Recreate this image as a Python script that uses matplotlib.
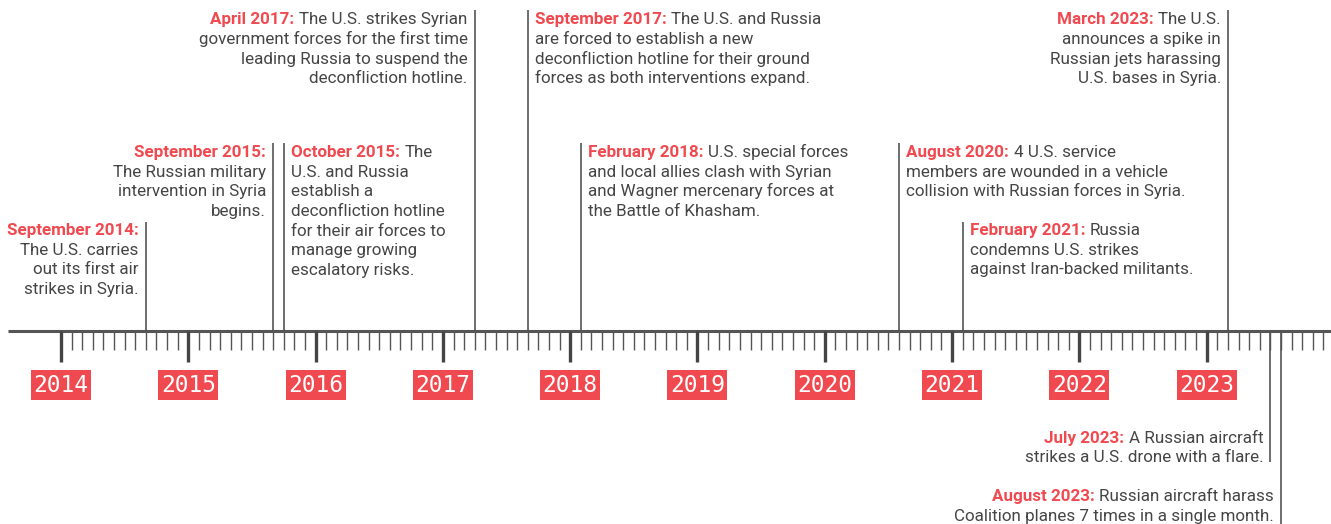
import matplotlib
matplotlib.use("Agg")
import matplotlib.pyplot as plt
from matplotlib.patches import Rectangle

# ---------------- data ----------------
years = [2014, 2015, 2016, 2017, 2018, 2019, 2020, 2021, 2022, 2023]
year_labels = [str(y) for y in years]
last_month = (2023, 12)

event_dates = [(2014, 9), (2015, 9), (2015, 10), (2017, 4), (2017, 9),
               (2018, 2), (2020, 8), (2021, 2), (2023, 3), (2023, 7), (2023, 8)]
event_titles = ["September 2014:", "September 2015:", "October 2015:", "April 2017:",
                "September 2017:", "February 2018:", "August 2020:", "February 2021:",
                "March 2023:", "July 2023:", "August 2023:"]
event_texts = [
    ["", "The U.S. carries", "out its first air", "strikes in Syria."],
    ["", "The Russian military", "intervention in Syria", "begins."],
    ["The", "U.S. and Russia", "establish a", "deconfliction hotline",
     "for their air forces to", "manage growing", "escalatory risks."],
    ["The U.S. strikes Syrian", "government forces for the first time",
     "leading Russia to suspend the", "deconfliction hotline."],
    ["The U.S. and Russia", "are forced to establish a new",
     "deconfliction hotline for their ground", "forces as both interventions expand."],
    ["U.S. special forces", "and local allies clash with Syrian",
     "and Wagner mercenary forces at", "the Battle of Khasham."],
    ["4 U.S. service", "members are wounded in a vehicle",
     "collision with Russian forces in Syria."],
    ["Russia", "condemns U.S. strikes", "against Iran-backed militants."],
    ["The U.S.", "announces a spike in", "Russian jets harassing", "U.S. bases in Syria."],
    ["A Russian aircraft", "strikes a U.S. drone with a flare."],
    ["Russian aircraft harass", "Coalition planes 7 times in a single month."],
]
# layout: side of line for text, first-baseline (px), line top (px)
event_align = ["right", "right", "left", "right", "left", "left", "left", "left",
               "right", "right", "right"]
event_base = [235, 157, 157, 24.3, 24.3, 157, 157, 235, 24.3, 442.7, 501]
event_top = [222, 143, 143, 10, 10, 143, 143, 222, 10, 462, 524]

# ---------------- style ----------------
W, H, DPI = 1331, 524, 100
PX_PER_YEAR = 127.3
X0_PX = 61
RED = "#f04a50"
TXT = "#454545"
LINE = "#6e6e6e"
AX_Y = 331
FS = 12.25
LH = 19.67
FONT = "Roboto"

fig = plt.figure(figsize=(W / DPI, H / DPI), dpi=DPI)
ax = fig.add_axes([0, 0, 1, 1])
ax.set_xlim(2014 - X0_PX / PX_PER_YEAR, 2014 + (W - X0_PX) / PX_PER_YEAR)
ax.set_ylim(H, 0)
ax.axis("off")

def dx(px):
    return px / PX_PER_YEAR

def tdate(y, m):
    return y + (m - 1) / 12.0

# axis line
ax.hlines(AX_Y, 2014 - dx(53), ax.get_xlim()[1], color="#555555", lw=2.2, zorder=3)
# minor monthly ticks
months = []
for y in range(years[0], last_month[0] + 1):
    for m in range(1, 13):
        if (y, m) <= last_month and m != 1:
            months.append(tdate(y, m))
ax.vlines(months, AX_Y, 350, color="#555555", lw=1.0, zorder=2)
# major ticks
ax.vlines(years, AX_Y, 362, color="#444444", lw=2.4, zorder=3)
# year boxes
for y, lab in zip(years, year_labels):
    ax.add_patch(Rectangle((y - dx(30), 370), dx(60), 30, facecolor=RED,
                           edgecolor="none", zorder=2))
    ax.text(y, 386, lab, ha="center", va="center", color="white",
            fontsize=16.5, family="DejaVu Sans Mono", zorder=3)

fig.canvas.draw()
renderer = fig.canvas.get_renderer()

def width_data(s, weight):
    t = ax.text(0, 0, s, fontsize=FS, family=FONT, weight=weight)
    bb = t.get_window_extent(renderer=renderer)
    t.remove()
    return dx(bb.width)

space_w = max(width_data("a b", "normal") - width_data("ab", "normal"), dx(4.8))

for (yy, mm), title, lines, al, base, top in zip(event_dates, event_titles, event_texts,
                                                  event_align, event_base, event_top):
    x = tdate(yy, mm)
    # event line
    if top < AX_Y:
        ax.vlines(x, top, AX_Y, color=LINE, lw=1.4, zorder=1)
    else:
        ax.vlines(x, AX_Y, top, color=LINE, lw=1.4, zorder=1)
    gap = dx(7)
    tx = x + gap if al == "left" else x - gap
    for i, line in enumerate(lines):
        by = base + i * LH
        if i == 0:
            if al == "left":
                ax.text(tx, by, title, ha="left", va="baseline", color=RED,
                        fontsize=FS, family=FONT, weight="bold")
                if line:
                    wt = width_data(title, "bold")
                    ax.text(tx + wt + space_w, by, line, ha="left", va="baseline",
                            color=TXT, fontsize=FS, family=FONT)
            else:
                if line:
                    ax.text(tx, by, line, ha="right", va="baseline", color=TXT,
                            fontsize=FS, family=FONT)
                    wl = width_data(line, "normal")
                    ax.text(tx - wl - space_w, by, title, ha="right", va="baseline",
                            color=RED, fontsize=FS, family=FONT, weight="bold")
                else:
                    ax.text(tx, by, title, ha="right", va="baseline", color=RED,
                            fontsize=FS, family=FONT, weight="bold")
        else:
            ax.text(tx, by, line, ha=al, va="baseline", color=TXT,
                    fontsize=FS, family=FONT)

fig.savefig("out.png", dpi=DPI, facecolor="white")
